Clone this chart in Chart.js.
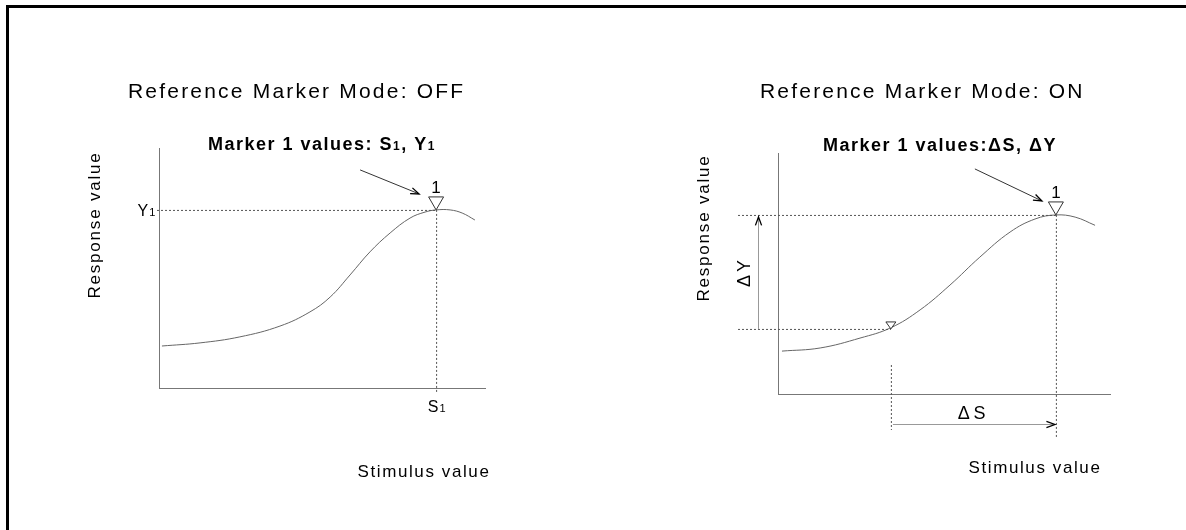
<!DOCTYPE html>
<html>
<head>
<meta charset="utf-8">
<script src="https://cdn.jsdelivr.net/npm/chart.js@4.4.1/dist/chart.umd.min.js"></script>
<style>
  html, body { margin: 0; padding: 0; background: #fff; }
  #page { position: relative; width: 1186px; height: 530px; overflow: hidden; }
  #frame { position: absolute; left: 6px; top: 5px; width: 1300px; height: 700px;
           border-top: 3px solid #000; border-left: 3px solid #000; }
  .box { position: absolute; top: 0; width: 593px; height: 530px; }
</style>
</head>
<body>
<div id="page">
  <div id="frame"></div>
  <div class="box" style="left:0"><canvas id="offChart"></canvas></div>
  <div class="box" style="left:593px"><canvas id="onChart"></canvas></div>
</div>
<script>
// curves, both axes 0..100
const offStimulus = [0.9, 12.6, 24.8, 37.1, 46.3, 52.5, 58.6, 64.7, 70.9, 77, 81.6, 85, 89.3, 93, 96.9];
const offResponse = [17.5, 18.8, 21.3, 25.8, 31.7, 37.9, 47.1, 56.7, 64.6, 70.8, 73.3, 74.2, 74.2, 72.9, 70];
const onStimulus = [1.2, 12.7, 24.7, 34, 42.8, 51.8, 60.8, 69.9, 77.4, 83.7, 89.5, 95.5];
const onResponse = [17.8, 19.1, 23.2, 27.5, 34.9, 45.2, 56.8, 67.2, 72.6, 74.3, 73.4, 70];

// marker positions [stimulus, response]
const offMarker = [85, 74.2];
const onMarker = [83.7, 74.3];
const onRefMarker = [34, 27];

const titles = ['Reference Marker Mode: OFF', 'Reference Marker Mode: ON'];
const axisNames = ['Stimulus value', 'Response value'];

const FONT = '"Liberation Sans", Arial, sans-serif';
const INK = '#000';
const LINE = '#666';

function txt(ctx, s, x, y, size, align, bold, spacing) {
  ctx.save();
  ctx.font = (bold ? 'bold ' : '') + size + 'px ' + FONT;
  ctx.letterSpacing = (spacing || 0) + 'px';
  ctx.fillStyle = INK;
  ctx.textAlign = align || 'left';
  ctx.textBaseline = 'alphabetic';
  ctx.fillText(s, x, y);
  ctx.restore();
}

// run of [text, isSub] parts, centred on x
function runTxt(ctx, parts, x, y, size, bold, spacing) {
  ctx.save();
  ctx.letterSpacing = (spacing || 0) + 'px';
  ctx.fillStyle = INK;
  ctx.textBaseline = 'alphabetic';
  ctx.textAlign = 'left';
  const fnt = sub => (bold ? 'bold ' : '') + (sub ? Math.round(size * 0.68) : size) + 'px ' + FONT;
  let total = 0;
  parts.forEach(p => { ctx.font = fnt(p[1]); total += ctx.measureText(p[0]).width; });
  let cx = x - total / 2;
  parts.forEach(p => {
    ctx.font = fnt(p[1]);
    ctx.fillText(p[0], cx, y);
    cx += ctx.measureText(p[0]).width;
  });
  ctx.restore();
}

function vTxt(ctx, s, x, y, size, spacing) {
  ctx.save();
  ctx.translate(x, y);
  ctx.rotate(-Math.PI / 2);
  ctx.font = size + 'px ' + FONT;
  ctx.letterSpacing = (spacing || 0) + 'px';
  ctx.fillStyle = INK;
  ctx.textAlign = 'center';
  ctx.textBaseline = 'middle';
  ctx.fillText(s, 0, 0);
  ctx.restore();
}

function dotted(ctx, x1, y1, x2, y2) {
  ctx.save();
  ctx.strokeStyle = '#555';
  ctx.lineWidth = 1;
  ctx.setLineDash([2, 2]);
  ctx.beginPath();
  ctx.moveTo(x1, y1);
  ctx.lineTo(x2, y2);
  ctx.stroke();
  ctx.restore();
}

function arrow(ctx, x1, y1, x2, y2, color) {
  const ang = Math.atan2(y2 - y1, x2 - x1);
  ctx.save();
  ctx.strokeStyle = color || '#333';
  ctx.lineWidth = 1;
  ctx.beginPath();
  ctx.moveTo(x1, y1);
  ctx.lineTo(x2, y2);
  ctx.stroke();
  ctx.strokeStyle = '#000';
  ctx.lineWidth = 1.3;
  ctx.beginPath();
  ctx.moveTo(x2 - 9 * Math.cos(ang - 0.35), y2 - 9 * Math.sin(ang - 0.35));
  ctx.lineTo(x2, y2);
  ctx.lineTo(x2 - 9 * Math.cos(ang + 0.35), y2 - 9 * Math.sin(ang + 0.35));
  ctx.stroke();
  ctx.restore();
}

// open triangle pointing down, tip on (x, y)
function tri(ctx, x, y, w, h) {
  ctx.save();
  ctx.strokeStyle = '#333';
  ctx.lineWidth = 1;
  ctx.fillStyle = '#fff';
  ctx.beginPath();
  ctx.moveTo(x, y);
  ctx.lineTo(x - w / 2, y - h);
  ctx.lineTo(x + w / 2, y - h);
  ctx.closePath();
  ctx.fill();
  ctx.stroke();
  ctx.restore();
}

const offDecor = {
  id: 'offDecor',
  afterDatasetsDraw(chart) {
    const ctx = chart.ctx, a = chart.chartArea;
    const mx = chart.scales.x.getPixelForValue(offMarker[0]);
    const my = chart.scales.y.getPixelForValue(offMarker[1]);
    dotted(ctx, a.left - 2, my + 0.5, mx, my + 0.5);
    dotted(ctx, mx + 0.5, my, mx + 0.5, a.bottom + 6);
    tri(ctx, mx, my, 15, 13);
    txt(ctx, '1', mx, my - 17, 17, 'center');
    arrow(ctx, mx - 76, my - 40, mx - 17, my - 16);
    runTxt(ctx, [['Y', false], ['1', true]], a.left - 12, my + 6, 16, false, 1);
    runTxt(ctx, [['S', false], ['1', true]], mx + 1, a.bottom + 24, 16, false, 1);
    vTxt(ctx, axisNames[1], a.left - 64, 225, 17, 1.8);
    txt(ctx, axisNames[0], a.left + 265, 477, 17, 'center', false, 1.6);
    txt(ctx, titles[0], a.left - 31, 98, 21, 'left', false, 2.2);
    runTxt(ctx, [['Marker 1 values: S', false], ['1', true], [', Y', false], ['1', true]],
      (a.left + a.right) / 2, 150, 18, true, 1.5);
  }
};

const onDecor = {
  id: 'onDecor',
  afterDatasetsDraw(chart) {
    const ctx = chart.ctx, a = chart.chartArea;
    const xs = chart.scales.x, ys = chart.scales.y;
    const mx = xs.getPixelForValue(onMarker[0]), my = ys.getPixelForValue(onMarker[1]);
    const rx = xs.getPixelForValue(onRefMarker[0]), ry = ys.getPixelForValue(onRefMarker[1]);
    dotted(ctx, a.left - 40, my + 0.5, mx, my + 0.5);
    dotted(ctx, a.left - 40, ry + 0.5, rx, ry + 0.5);
    dotted(ctx, rx + 0.5, a.bottom - 29, rx + 0.5, a.bottom + 36);
    dotted(ctx, mx + 0.5, my, mx + 0.5, a.bottom + 43);
    arrow(ctx, a.left - 19.5, ry, a.left - 19.5, my + 2, '#999');
    arrow(ctx, rx + 2, a.bottom + 30.5, mx - 1, a.bottom + 30.5, '#999');
    vTxt(ctx, '\u0394Y', a.left - 33, 272, 18, 3);
    txt(ctx, '\u0394S', (rx + mx) / 2, a.bottom + 25, 18, 'center', false, 3.5);
    tri(ctx, mx, my, 15, 13);
    txt(ctx, '1', mx, my - 17, 17, 'center');
    arrow(ctx, mx - 81, my - 46, mx - 14, my - 14);
    tri(ctx, rx, ry, 10, 7);
    vTxt(ctx, axisNames[1], a.left - 74, 228, 17, 1.8);
    txt(ctx, axisNames[0], a.left + 257, 473, 17, 'center', false, 1.6);
    txt(ctx, titles[1], a.left - 18, 98, 21, 'left', false, 2.2);
    txt(ctx, 'Marker 1 values:\u0394S, \u0394Y', (a.left + a.right) / 2 - 4, 151, 18, 'center', true, 1.5);
  }
};

function makeChart(id, stim, resp, pad, decor) {
  const axis = {
    type: 'linear', min: 0, max: 100,
    grid: { display: false, drawTicks: false },
    ticks: { display: false },
    border: { display: true, color: '#777', width: 1 }
  };
  return new Chart(document.getElementById(id), {
    type: 'scatter',
    data: {
      datasets: [{
        data: stim.map((s, i) => ({ x: s, y: resp[i] })),
        showLine: true,
        borderColor: LINE,
        borderWidth: 1,
        pointRadius: 0,
        tension: 0.4,
        clip: false
      }]
    },
    options: {
      responsive: true,
      maintainAspectRatio: false,
      animation: false,
      events: [],
      layout: { padding: pad },
      plugins: { legend: { display: false }, tooltip: { enabled: false } },
      scales: { x: axis, y: axis }
    },
    plugins: [decor]
  });
}

makeChart('offChart', offStimulus, offResponse, { left: 159, top: 148, right: 108, bottom: 142 }, offDecor);
makeChart('onChart', onStimulus, onResponse, { left: 185, top: 153, right: 76, bottom: 136 }, onDecor);
</script>
</body>
</html>
